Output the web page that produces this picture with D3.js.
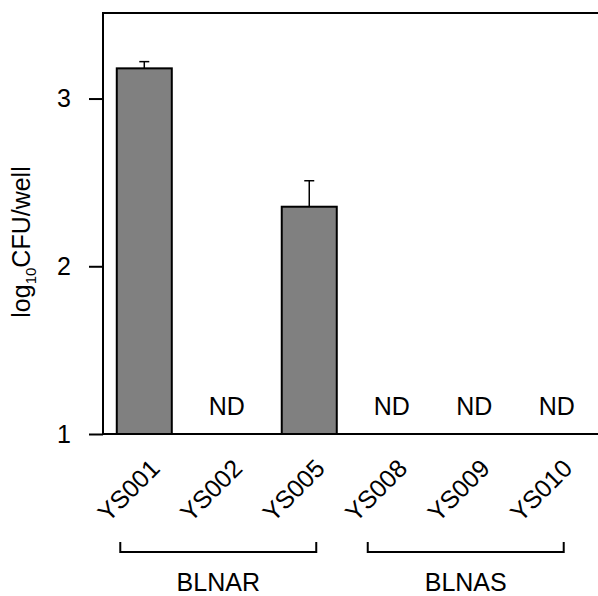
<!DOCTYPE html>
<meta charset="utf-8">
<style>
body { margin: 0; background: #fff; }
text { font-family: "Liberation Sans", Arial, Helvetica, sans-serif; fill: #000; }
</style>
<body>
<script src="https://cdn.jsdelivr.net/npm/d3@7"></script>
<script>
// strains and mean log10 CFU per well (null = not detected)
var strains = ["YS001", "YS002", "YS005", "YS008", "YS009", "YS010"];
var means = [3.18, null, 2.355, null, null, null];
var errs = [0.04, null, 0.155, null, null, null];
var groups = ["BLNAR", "BLNAS"];
var groupMembers = [["YS001", "YS005"], ["YS008", "YS010"]];
var yTicks = [1, 2, 3];

var width = 598, height = 596;
var plotL = 103, plotR = 598, plotT = 13, plotB = 434;

var svg = d3.select("body").append("svg")
    .attr("width", width)
    .attr("height", height);

var x = d3.scaleBand()
    .domain(strains)
    .range([plotL, plotR])
    .paddingInner(0.333)
    .paddingOuter(0.167);

var y = d3.scaleLinear()
    .domain([1, 3.51])
    .range([plotB, plotT]);

// bars
var data = strains.map(function(s, i) { return {name: s, v: means[i], e: errs[i]}; });

svg.selectAll(".bar")
    .data(data.filter(function(d) { return d.v != null; }))
  .enter().append("rect")
    .attr("class", "bar")
    .attr("x", function(d) { return x(d.name); })
    .attr("y", function(d) { return y(d.v); })
    .attr("width", x.bandwidth())
    .attr("height", function(d) { return y(1) - y(d.v); })
    .style("fill", "#808080")
    .style("stroke", "#000")
    .style("stroke-width", 2);

// error bars (upper only)
var eb = svg.selectAll(".err")
    .data(data.filter(function(d) { return d.e != null; }))
  .enter().append("g")
    .attr("class", "err");
eb.append("line")
    .attr("x1", function(d) { return x(d.name) + x.bandwidth() / 2; })
    .attr("x2", function(d) { return x(d.name) + x.bandwidth() / 2; })
    .attr("y1", function(d) { return y(d.v); })
    .attr("y2", function(d) { return y(d.v + d.e); })
    .style("stroke", "#000").style("stroke-width", 1.5);
eb.append("line")
    .attr("x1", function(d) { return x(d.name) + x.bandwidth() / 2 - 5; })
    .attr("x2", function(d) { return x(d.name) + x.bandwidth() / 2 + 5; })
    .attr("y1", function(d) { return y(d.v + d.e); })
    .attr("y2", function(d) { return y(d.v + d.e); })
    .style("stroke", "#000").style("stroke-width", 1.5);

// ND labels
svg.selectAll(".nd")
    .data(data.filter(function(d) { return d.v == null; }))
  .enter().append("text")
    .attr("class", "nd")
    .attr("x", function(d) { return x(d.name) + x.bandwidth() / 2; })
    .attr("y", 415)
    .attr("text-anchor", "middle")
    .style("font-size", "25px")
    .text("ND");

// frame: left axis, top line, bottom line
svg.append("path")
    .attr("d", "M" + plotR + "," + plotT + "H" + plotL + "V" + plotB)
    .style("fill", "none").style("stroke", "#000").style("stroke-width", 2);
svg.append("line")
    .attr("x1", plotL).attr("x2", plotR)
    .attr("y1", plotB).attr("y2", plotB)
    .style("stroke", "#000").style("stroke-width", 2);

// y axis
var yAxis = svg.append("g")
    .attr("transform", "translate(" + plotL + ",0)")
    .call(d3.axisLeft(y).tickValues(yTicks).tickSize(14).tickPadding(18).tickFormat(d3.format("d")));
yAxis.select(".domain").remove();
yAxis.selectAll(".tick line").style("stroke-width", 2);
yAxis.selectAll(".tick text")
    .style("font-family", "'Liberation Sans', Arial, Helvetica, sans-serif")
    .style("font-size", "25px");

// y label
var yl = svg.append("text")
    .attr("transform", "translate(30,242) rotate(-90)")
    .attr("text-anchor", "middle")
    .style("font-size", "25px");
yl.append("tspan").text("log");
yl.append("tspan").attr("dy", 6).style("font-size", "15px").text("10");
yl.append("tspan").attr("dy", -6).text("CFU/well");

// x tick labels, rotated
svg.selectAll(".xlab")
    .data(strains)
  .enter().append("text")
    .attr("class", "xlab")
    .attr("transform", function(d) {
      return "translate(" + (x(d) + x.bandwidth() / 2 + 17) + ",470) rotate(-45)";
    })
    .attr("text-anchor", "end")
    .style("font-size", "25px")
    .text(function(d) { return d; });

// group brackets
groups.forEach(function(g, i) {
  var x0 = x(groupMembers[i][0]) + x.bandwidth() / 2 - 24;
  var x1 = x(groupMembers[i][1]) + x.bandwidth() / 2 + 7;
  svg.append("path")
      .attr("d", "M" + x0 + ",542V552H" + x1 + "V542")
      .style("fill", "none").style("stroke", "#000").style("stroke-width", 2);
  svg.append("text")
      .attr("x", (x0 + x1) / 2)
      .attr("y", 591)
      .attr("text-anchor", "middle")
      .style("font-size", "25px")
      .text(g);
});
</script>
